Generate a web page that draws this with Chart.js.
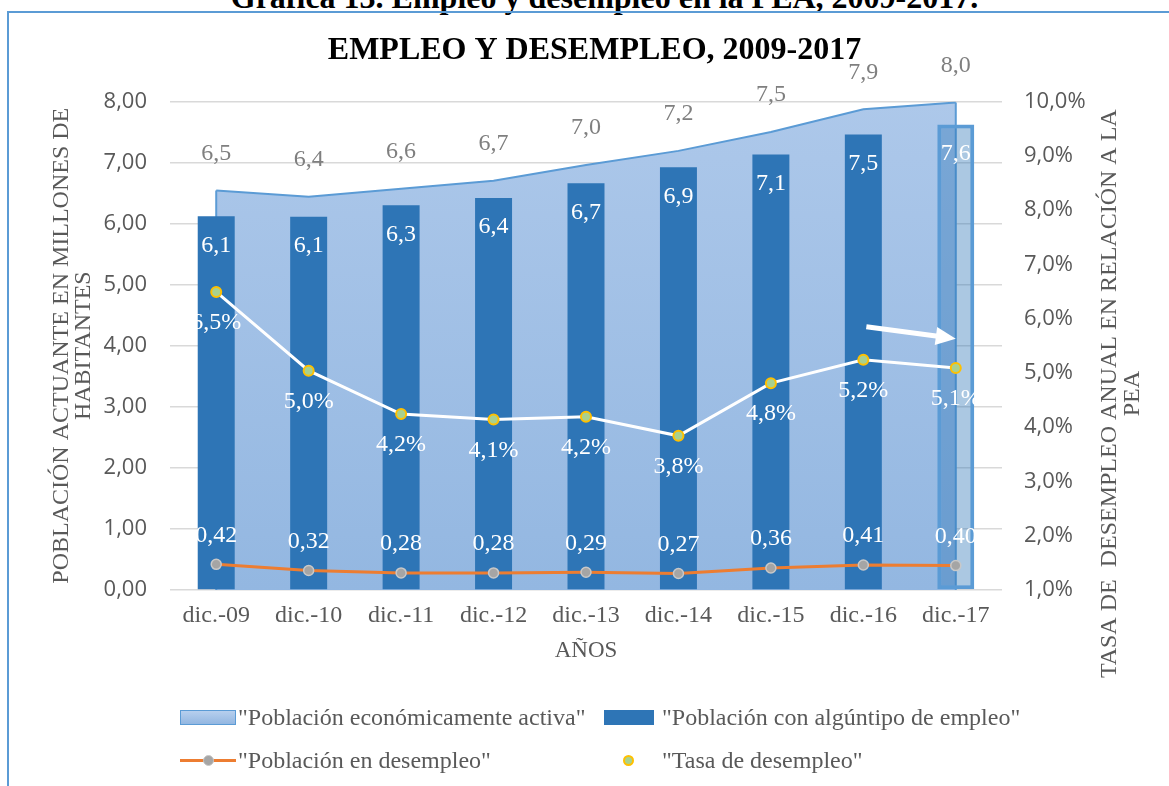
<!DOCTYPE html>
<html lang="es">
<head>
<meta charset="utf-8">
<title>Empleo y desempleo, 2009-2017</title>
<script src="https://cdn.jsdelivr.net/npm/chart.js@4.4.1/dist/chart.umd.min.js"></script>
<style>
    html, body { margin: 0; padding: 0; background: #fff; }
    body { width: 1169px; height: 786px; position: relative; overflow: hidden; }
    #tituloPagina {
        position: absolute; left: 20px; top: -19px; width: 1169px;
        text-align: center; font: bold 32px/32px "Liberation Serif", "Times New Roman", serif; color: #000;
    }
    #marco {
        position: absolute; left: 7px; top: 11px; width: 1200px; height: 800px;
        border-top: 2px solid #5b9bd5; border-left: 2px solid #5b9bd5;
    }
    #contenedor { position: absolute; left: 0; top: 0; width: 1169px; height: 690px; }
    #leyenda { position: absolute; left: 0; top: 0; width: 1169px; height: 786px; pointer-events: none; }
    .item {
        position: absolute; display: flex; align-items: center; height: 30px;
        font: 24px "Liberation Serif", "Times New Roman", serif; color: #595959; white-space: nowrap;
    }
    .muestra { position: relative; width: 56px; height: 30px; margin-right: 2px; flex: none; }
    .muestra span { position: absolute; display: block; box-sizing: border-box; }
</style>
</head>
<body>
<div id="tituloPagina">Gráfica 13. Empleo y desempleo en la PEA, 2009-2017.</div>
<div id="marco"></div>
<div id="contenedor"><canvas id="grafico" width="1169" height="690"></canvas></div>
<div id="leyenda"></div>

<script>
// ===== Datos =====
const categorias = ['dic.-09', 'dic.-10', 'dic.-11', 'dic.-12', 'dic.-13', 'dic.-14', 'dic.-15', 'dic.-16', 'dic.-17'];

// millones de habitantes
const poblacionActiva = [6.54, 6.44, 6.57, 6.70, 6.96, 7.19, 7.50, 7.87, 7.98];
const poblacionEmpleada = [6.12, 6.11, 6.30, 6.42, 6.66, 6.92, 7.13, 7.46, 7.62];
const poblacionDesempleo = [0.42, 0.32, 0.28, 0.28, 0.29, 0.27, 0.36, 0.41, 0.40];

// porcentaje
const tasaDesempleo = [6.49, 5.04, 4.24, 4.14, 4.19, 3.84, 4.81, 5.24, 5.09];

const ticksIzq = [0, 1, 2, 3, 4, 5, 6, 7, 8];
const ticksDer = [1, 2, 3, 4, 5, 6, 7, 8, 9, 10];

const nombresSeries = [
    '"Población económicamente activa"',
    '"Población con algúntipo de empleo"',
    '"Población en desempleo"',
    '"Tasa de desempleo"',
];

// flecha blanca (índice de categoría, valor en eje de tasa)
const flechaDesde = [7, 5.85];
const flechaHasta = [8, 5.63];

const GRIS = '#595959';
const SERIF = '"Liberation Serif", "Times New Roman", serif';
const SANS = '"Open Sans", "Noto Sans", sans-serif';

const coma = (v, dec) => v.toFixed(dec).replace('.', ',');

// degradado del área
function degradadoArea(context) {
    const { chart } = context;
    const area = chart.chartArea;
    if (!area) return '#a4c2e7';
    const g = chart.ctx.createLinearGradient(0, area.top, 0, area.bottom);
    g.addColorStop(0, '#adc8ea');
    g.addColorStop(1, '#93b7e1');
    return g;
}

// Etiquetas de datos, bordes del área, flecha y título del eje derecho
const pluginExtras = {
    id: 'extras',
    afterDatasetDraw(chart, args) {
        if (args.index !== 0) return;
        // bordes verticales del área
        const pts = chart.getDatasetMeta(0).data;
        const base = chart.scales.y.getPixelForValue(0);
        const ctx = chart.ctx;
        ctx.save();
        ctx.strokeStyle = '#5b9bd5';
        ctx.lineWidth = 2;
        [pts[0], pts[pts.length - 1]].forEach((p) => {
            ctx.beginPath();
            ctx.moveTo(p.x, p.y);
            ctx.lineTo(p.x, base);
            ctx.stroke();
        });
        ctx.restore();
    },
    afterDatasetsDraw(chart) {
        const ctx = chart.ctx;
        const etiquetar = (idx, valores, fmt, dy, color) => {
            const meta = chart.getDatasetMeta(idx);
            meta.data.forEach((el, i) => {
                ctx.fillStyle = color;
                ctx.fillText(fmt(valores[i]), el.x, el.y + dy);
            });
        };
        ctx.save();
        ctx.font = '24px ' + SERIF;
        ctx.textAlign = 'center';
        ctx.textBaseline = 'middle';
        etiquetar(0, poblacionActiva, (v) => coma(v, 1), -37, '#7f7f7f');
        etiquetar(1, poblacionEmpleada, (v) => coma(v, 1), 29, '#ffffff');
        etiquetar(2, poblacionDesempleo, (v) => coma(v, 2), -29, '#ffffff');
        etiquetar(3, tasaDesempleo, (v) => coma(v, 1) + '%', 31, '#ffffff');
        ctx.restore();

        // flecha
        const x = chart.scales.x;
        const y1 = chart.scales.y1;
        const x0 = x.getPixelForValue(flechaDesde[0]) + 3;
        const yA = y1.getPixelForValue(flechaDesde[1]);
        const x1 = x.getPixelForValue(flechaHasta[0]);
        const yB = y1.getPixelForValue(flechaHasta[1]);
        const ang = Math.atan2(yB - yA, x1 - x0);
        const largo = Math.hypot(x1 - x0, yB - yA);
        ctx.save();
        ctx.translate(x0, yA);
        ctx.rotate(ang);
        ctx.fillStyle = '#ffffff';
        ctx.fillRect(0, -2.5, largo - 18, 5);
        ctx.beginPath();
        ctx.moveTo(largo, 0);
        ctx.lineTo(largo - 20, -9);
        ctx.lineTo(largo - 20, 9);
        ctx.closePath();
        ctx.fill();
        ctx.restore();

        // título del eje derecho (leído de abajo hacia arriba)
        const ca = chart.chartArea;
        const cy = (ca.top + ca.bottom) / 2 + 48;
        ctx.save();
        ctx.font = '24px ' + SERIF;
        ctx.fillStyle = GRIS;
        ctx.textAlign = 'center';
        ctx.textBaseline = 'middle';
        ctx.translate(ca.right + 108, cy);
        ctx.rotate(-Math.PI / 2);
        ctx.fillText('TASA DE  DESEMPLEO ANUAL EN RELACIÓN A LA', 0, 0);
        ctx.fillText('PEA', 0, 23);
        ctx.restore();
    },
};

const ultimo = poblacionEmpleada.length - 1;

const grafico = new Chart(document.getElementById('grafico'), {
    type: 'bar',
    data: {
        labels: categorias,
        datasets: [
            {
                type: 'line',
                label: nombresSeries[0],
                data: poblacionActiva,
                yAxisID: 'y',
                fill: 'origin',
                backgroundColor: degradadoArea,
                borderColor: '#5b9bd5',
                borderWidth: 2,
                pointRadius: 0,
                tension: 0,
                order: 4,
            },
            {
                type: 'bar',
                label: nombresSeries[1],
                data: poblacionEmpleada,
                yAxisID: 'y',
                backgroundColor: poblacionEmpleada.map((_, i) => (i === ultimo ? 'rgba(46,117,182,0.4)' : '#2e75b6')),
                borderColor: poblacionEmpleada.map((_, i) => (i === ultimo ? '#5b9bd5' : '#2e75b6')),
                borderWidth: poblacionEmpleada.map((_, i) => (i === ultimo ? 4 : 0)),
                borderSkipped: false,
                barPercentage: 0.4,
                categoryPercentage: 1,
                order: 3,
            },
            {
                type: 'line',
                label: nombresSeries[2],
                data: poblacionDesempleo,
                yAxisID: 'y',
                borderColor: '#ed7d31',
                borderWidth: 3,
                pointRadius: 5,
                pointBackgroundColor: '#a5a5a5',
                pointBorderColor: '#c8c8c8',
                pointBorderWidth: 1.5,
                tension: 0,
                fill: false,
                order: 2,
            },
            {
                type: 'line',
                label: nombresSeries[3],
                data: tasaDesempleo,
                yAxisID: 'y1',
                borderColor: '#ffffff',
                borderWidth: 3,
                pointRadius: 5,
                pointBackgroundColor: '#a9d18e',
                pointBorderColor: '#ffc000',
                pointBorderWidth: 2,
                tension: 0,
                fill: false,
                order: 1,
            },
        ],
    },
    options: {
        responsive: false,
        animation: false,
        layout: { padding: { left: 20, right: 0, top: 0, bottom: 0 } },
        plugins: {
            legend: { display: false },
            tooltip: { enabled: false },
            title: {
                display: true,
                text: 'EMPLEO Y DESEMPLEO, 2009-2017',
                color: '#000',
                font: { family: SERIF, size: 32, weight: 'bold', lineHeight: 1.2 },
                padding: { top: 32, bottom: 31 },
            },
        },
        scales: {
            x: {
                grid: { display: false, drawTicks: false },
                border: { display: false },
                ticks: { color: GRIS, font: { family: SERIF, size: 24 }, padding: 11, maxRotation: 0 },
                title: {
                    display: true, text: 'AÑOS', color: GRIS,
                    font: { family: SERIF, size: 23, lineHeight: 1.2 }, padding: { top: 0, bottom: 25 },
                },
                afterFit: (s) => { s.height = 100; },
            },
            y: {
                position: 'left',
                min: ticksIzq[0],
                max: ticksIzq[ticksIzq.length - 1],
                afterBuildTicks: (s) => { s.ticks = ticksIzq.map((v) => ({ value: v })); },
                grid: { color: '#d9d9d9', lineWidth: 1.5, drawTicks: false },
                border: { display: false },
                ticks: { color: GRIS, font: { family: SANS, size: 22 }, padding: 23, callback: (v) => coma(v, 2) },
                title: {
                    display: true,
                    text: ['POBLACIÓN ACTUANTE EN MILLONES DE', 'HABITANTES'],
                    color: GRIS,
                    font: { family: SERIF, size: 24, lineHeight: 0.92 },
                    padding: { top: 31, bottom: 0 },
                },
                afterFit: (s) => { s.width = 150; },
            },
            y1: {
                position: 'right',
                min: ticksDer[0],
                max: ticksDer[ticksDer.length - 1],
                afterBuildTicks: (s) => { s.ticks = ticksDer.map((v) => ({ value: v })); },
                grid: { drawOnChartArea: false, drawTicks: false },
                border: { display: false },
                ticks: { color: GRIS, font: { family: SANS, size: 22 }, padding: 22, callback: (v) => coma(v, 1) + '%' },
                afterFit: (s) => { s.width = 167; },
            },
        },
    },
    plugins: [pluginExtras],
});

// ===== Leyenda en HTML (dos columnas, como en el original) =====
function crearLeyenda(chart) {
    const cont = document.getElementById('leyenda');
    const posiciones = [[180, 702], [604, 702], [180, 745], [604, 745]];
    const muestras = [
        '<span style="left:0;top:8px;width:56px;height:15px;border:1.5px solid #5b9bd5;background:linear-gradient(#b7cfee,#93b7e1)"></span>',
        '<span style="left:0;top:8px;width:50px;height:15px;background:#2e75b6"></span>',
        '<span style="left:0;top:14px;width:56px;height:3px;background:#ed7d31"></span>'
            + '<span style="left:23px;top:10px;width:11px;height:11px;border-radius:50%;background:#a5a5a5;border:1.5px solid #c8c8c8"></span>',
        '<span style="left:19px;top:10px;width:11px;height:11px;border-radius:50%;background:#a9d18e;border:2px solid #ffc000"></span>',
    ];
    chart.data.datasets.forEach((ds, i) => {
        const div = document.createElement('div');
        div.className = 'item';
        div.style.left = posiciones[i][0] + 'px';
        div.style.top = posiciones[i][1] + 'px';
        div.innerHTML = '<div class="muestra">' + muestras[i] + '</div><span>' + ds.label + '</span>';
        cont.appendChild(div);
    });
}

crearLeyenda(grafico);
</script>
</body>
</html>
